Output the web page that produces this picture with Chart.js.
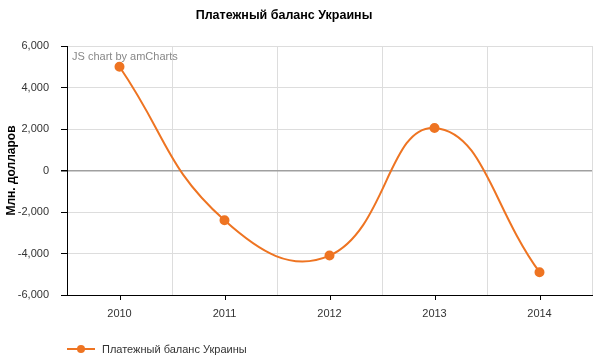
<!DOCTYPE html>
<html>
<head>
<meta charset="utf-8">
<script src="https://cdn.jsdelivr.net/npm/chart.js@4"></script>
<style>
    body { margin: 0; background: #fff; font-family: 'Liberation Sans', Arial, sans-serif; }
    #wrap { position: relative; width: 610px; height: 363px; }
    #title { position: absolute; left: 0; top: 7px; width: 568px; text-align: center; font-size: 12.5px; font-weight: bold; color: #000; line-height: 16px; }
    #credit { position: absolute; left: 72px; top: 50px; font-size: 11px; color: #888; }
    #legend { position: absolute; left: 67px; top: 341px; height: 16px; font-size: 11px; color: #333; display: flex; align-items: center; }
    #legend .mark { position: relative; width: 28px; height: 2px; background: #ee7422; margin-right: 7px; }
    #legend .mark i { position: absolute; left: 10px; top: -3px; width: 8px; height: 8px; border-radius: 50%; background: #ee7422; }
</style>
</head>
<body>
<div id="wrap">
    <canvas id="chart" width="610" height="363"></canvas>
    <div id="title">Платежный баланс Украины</div>
    <div id="credit">JS chart by amCharts</div>
    <div id="legend"><span class="mark"><i></i></span>Платежный баланс Украины</div>
</div>
<script>
const years = ['2010', '2011', '2012', '2013', '2014']
const balance = [5000, -2400, -4100, 2050, -4900]
const yTicks = [-6000, -4000, -2000, 0, 2000, 4000, 6000]

const ORANGE = '#ee7422'
const FONT = "'Liberation Sans', Arial, sans-serif"

// tick marks at category centres (grid lines sit between categories)
const centerTicks = {
    id: 'centerTicks',
    afterDraw(chart) {
        const x = chart.scales.x
        const bottom = chart.chartArea.bottom
        const ctx = chart.ctx
        ctx.save()
        ctx.strokeStyle = '#000'
        ctx.lineWidth = 1
        years.forEach((_, i) => {
            const px = Math.round(x.getPixelForTick(i)) + 0.5
            ctx.beginPath()
            ctx.moveTo(px, bottom)
            ctx.lineTo(px, bottom + 5)
            ctx.stroke()
        })
        ctx.restore()
    }
}

new Chart(document.getElementById('chart'), {
    type: 'line',
    data: {
        labels: years,
        datasets: [{
            label: 'Платежный баланс Украины',
            data: balance,
            borderColor: ORANGE,
            backgroundColor: ORANGE,
            borderWidth: 2,
            tension: 0.45,
            pointRadius: 4,
            pointHoverRadius: 5,
            fill: false,
        }]
    },
    options: {
        responsive: false,
        animation: false,
        layout: { padding: { top: 46, right: 18, bottom: 38, left: 0 } },
        plugins: {
            legend: { display: false },
            tooltip: { enabled: false },
        },
        scales: {
            x: {
                offset: true,
                grid: { offset: true, color: '#dddddd', drawTicks: false },
                border: { color: '#000', width: 1 },
                ticks: { color: '#333', padding: 12, font: { family: FONT, size: 11 } },
                afterFit: s => { s.height = 30 },
            },
            y: {
                min: -6000,
                max: 6000,
                afterBuildTicks: s => { s.ticks = yTicks.map(v => ({ value: v })) },
                grid: {
                    color: c => (c.tick && c.tick.value === 0 ? '#a0a0a0' : '#dddddd'),
                    lineWidth: c => (c.tick && c.tick.value === 0 ? 1.5 : 1),
                    tickColor: '#000',
                    tickLength: 6,
                },
                border: { color: '#000', width: 1 },
                ticks: {
                    color: '#333',
                    padding: 12,
                    font: { family: FONT, size: 11 },
                    callback: v => v.toLocaleString('en-US'),
                },
                title: {
                    display: true,
                    text: 'Млн. долларов',
                    color: '#000',
                    padding: { top: 4, bottom: 0 },
                    font: { family: FONT, size: 12, weight: 'bold' },
                },
                afterFit: s => { s.width = 67 },
            }
        }
    },
    plugins: [centerTicks]
})
</script>
</body>
</html>
